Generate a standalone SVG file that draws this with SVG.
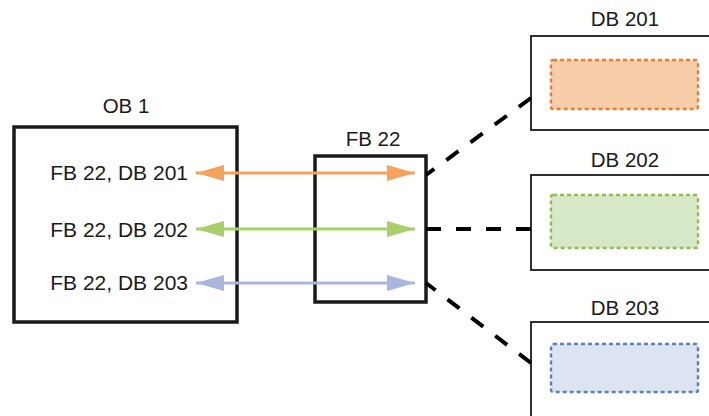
<svg xmlns="http://www.w3.org/2000/svg" width="709" height="416" viewBox="0 0 709 416">
<style>
text{font-family:"Liberation Sans",Arial,sans-serif;font-size:20.5px;fill:#1a1a1a}
.row{font-size:21px}
.mid{text-anchor:middle}
.end{text-anchor:end}
.blk{fill:#fff;stroke:#1a1a1a;stroke-width:3.5}
.db{fill:#fff;stroke:#1a1a1a;stroke-width:1.8}
.link{fill:none;stroke:#000;stroke-width:4;stroke-dasharray:15 15}
.arr{stroke-width:3}
.in{stroke-width:2.4;stroke-dasharray:4 3}
</style>
<defs>
<marker id="ho" viewBox="0 0 28 16" refX="28" refY="8" markerWidth="28" markerHeight="16" markerUnits="userSpaceOnUse" orient="auto-start-reverse"><path d="M0,0L28,8L0,16Z" fill="#F5A25F"/></marker>
<marker id="hg" viewBox="0 0 28 16" refX="28" refY="8" markerWidth="28" markerHeight="16" markerUnits="userSpaceOnUse" orient="auto-start-reverse"><path d="M0,0L28,8L0,16Z" fill="#A8CF6A"/></marker>
<marker id="hb" viewBox="0 0 28 16" refX="28" refY="8" markerWidth="28" markerHeight="16" markerUnits="userSpaceOnUse" orient="auto-start-reverse"><path d="M0,0L28,8L0,16Z" fill="#ABB6DC"/></marker>
</defs>
<g id="ob1">
<rect class="blk" x="14" y="127" width="223" height="195"/>
<text class="mid" x="126" y="113">OB 1</text>
<text class="end row" x="188" y="180">FB 22, DB 201</text>
<text class="end row" x="188" y="237">FB 22, DB 202</text>
<text class="end row" x="188" y="290">FB 22, DB 203</text>
</g>
<g id="fb22">
<rect class="blk" x="315" y="156" width="111" height="146"/>
<text class="mid" x="373" y="146">FB 22</text>
</g>
<g id="db201">
<rect class="db" x="531" y="36" width="190" height="94"/>
<rect class="in" x="551" y="60" width="147" height="49" rx="2" fill="#F8CDA9" stroke="#F07B2C"/>
<text class="mid" x="625" y="26">DB 201</text>
</g>
<g id="db202">
<rect class="db" x="531" y="175" width="190" height="95"/>
<rect class="in" x="551" y="195" width="147" height="53" rx="2" fill="#D6E8C6" stroke="#8BC04C"/>
<text class="mid" x="625" y="167">DB 202</text>
</g>
<g id="db203">
<rect class="db" x="531" y="322" width="190" height="110"/>
<rect class="in" x="551" y="344" width="147" height="48" rx="2" fill="#DCE3F1" stroke="#5A7FC2"/>
<text class="mid" x="625" y="315">DB 203</text>
</g>
<g id="connectors">
<line class="arr" x1="196" y1="173" x2="415" y2="173" stroke="#F5A25F" marker-start="url(#ho)" marker-end="url(#ho)"/>
<line class="arr" x1="196" y1="229" x2="415" y2="229" stroke="#A8CF6A" marker-start="url(#hg)" marker-end="url(#hg)"/>
<line class="arr" x1="196" y1="283" x2="415" y2="283" stroke="#ABB6DC" marker-start="url(#hb)" marker-end="url(#hb)"/>
<line class="link" x1="531" y1="98" x2="426" y2="175"/>
<line class="link" x1="531" y1="229" x2="426" y2="229"/>
<line class="link" x1="531" y1="363" x2="426" y2="283"/>
</g>
</svg>
